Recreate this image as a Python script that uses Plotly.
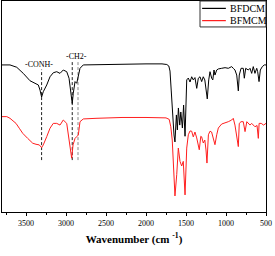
import plotly.graph_objects as go

# Wavenumber (cm-1) and transmittance (%)
bfdcm_wn = [3800, 3700, 3616, 3534, 3450, 3388, 3346, 3325, 3305, 3284, 3241, 3200, 3159, 3116, 3075, 3034,
            2991, 2962, 2937, 2922, 2909, 2887, 2866, 2846, 2825, 2784, 2600, 2300, 2000, 1800, 1740, 1715,
            1700, 1685, 1665, 1650, 1638, 1620, 1608, 1595, 1578, 1565, 1545, 1530, 1512, 1495, 1491, 1471,
            1450, 1429, 1409, 1388, 1366, 1346, 1325, 1304, 1284, 1265, 1250, 1234, 1216, 1200, 1179, 1165,
            1150, 1138, 1116, 1096, 1054, 1012, 971, 929, 909, 888, 866, 846, 834, 812, 784, 771, 754, 721,
            700, 679, 659, 638, 616, 604, 587, 571, 546, 521, 500]
bfdcm_t = [69.7, 69.7, 68.6, 65.7, 62.2, 61.0, 60.2, 57.8, 54.5, 57.0, 60.2, 64.1, 66.0, 66.5, 65.7, 67.3,
           66.5, 63.4, 56.3, 51.4, 56.3, 61.8, 61.0, 64.9, 68.1, 69.7, 69.9, 69.9, 70.2, 70.2, 69.9, 69.2,
           66.8, 57.8, 43.6, 36.5, 33.2, 46.0, 38.9, 49.3, 41.2, 47.4, 39.8, 50.7, 35.9, 55.5, 62.6, 63.5,
           61.6, 64.1, 62.6, 63.7, 58.6, 63.4, 64.1, 61.8, 64.1, 62.6, 58.8, 53.6, 62.6, 66.5, 63.4, 62.6,
           67.3, 64.9, 67.3, 67.8, 68.1, 68.4, 68.1, 68.9, 68.1, 67.3, 64.9, 57.4, 64.9, 68.1, 68.1, 63.4,
           68.1, 67.3, 68.1, 65.7, 68.9, 65.7, 68.1, 66.5, 61.8, 67.3, 68.9, 69.7, 69.7]

bfmcm_wn = [3800, 3740, 3700, 3625, 3584, 3541, 3479, 3416, 3375, 3334, 3305, 3284, 3241, 3200, 3159, 3116,
            3075, 3034, 2991, 2966, 2954, 2929, 2912, 2887, 2866, 2846, 2825, 2784, 2625, 2300, 2000, 1800,
            1750, 1710, 1690, 1672, 1655, 1638, 1616, 1596, 1575, 1554, 1534, 1512, 1491, 1471, 1450, 1429,
            1409, 1388, 1366, 1346, 1334, 1315, 1304, 1284, 1265, 1250, 1238, 1220, 1200, 1180, 1150, 1138,
            1116, 1096, 1054, 1012, 971, 929, 909, 888, 866, 846, 834, 812, 784, 762, 740, 721, 700, 679,
            659, 638, 612, 596, 586, 560, 530, 500]
bfmcm_t = [45.2, 45.2, 44.4, 42.0, 39.7, 37.3, 34.9, 32.6, 32.1, 31.8, 30.5, 31.8, 35.7, 39.7, 42.0, 42.0,
           41.2, 43.6, 42.0, 34.9, 31.8, 25.5, 31.8, 34.9, 35.7, 36.5, 42.8, 44.1, 44.4, 44.8, 44.8, 44.9,
           44.6, 43.9, 40.4, 34.1, 20.9, 7.6, 17.7, 30.3, 24.0, 21.8, 24.0, 8.1, 30.3, 36.6, 38.4, 38.3,
           35.6, 37.9, 35.1, 31.8, 29.5, 35.9, 35.6, 32.7, 34.1, 29.4, 23.2, 36.6, 38.3, 37.9, 33.5, 31.9,
           36.6, 39.8, 41.7, 42.2, 42.8, 43.6, 44.4, 41.2, 35.7, 31.0, 42.0, 42.8, 42.8, 38.1, 42.8, 42.0,
           41.2, 42.0, 41.2, 40.4, 41.0, 34.9, 42.0, 42.0, 41.2, 42.0]

series_names = ["BFDCM", "BFMCM"]
series_colors = ["black", "#ff1f1f"]

# Marker lines for the assigned bands
band_wn = [3305, 2922, 2850]
band_top = [67.5, 71.5, 71.5]
band_bottom = [24.6, 24.6, 24.6]
band_color = ["#222222", "#222222", "#888888"]
label_text = ["-CONH-", "-CH2-"]
label_wn = [3335, 2866]
label_t = [70.1, 73.5]

x_ticks = [3500, 3000, 2500, 2000, 1500, 1000, 500]

SERIF = "Liberation Serif, Times New Roman, serif"

fig = go.Figure()
for wn, t, name, color in zip([bfdcm_wn, bfmcm_wn], [bfdcm_t, bfmcm_t], series_names, series_colors):
    fig.add_trace(go.Scatter(x=wn, y=t, mode="lines", name=name, showlegend=False,
                             line=dict(color=color, width=1)))

for wn, t0, t1, c in zip(band_wn, band_top, band_bottom, band_color):
    fig.add_shape(type="line", x0=wn, x1=wn, y0=t1, y1=t0, xref="x", yref="y",
                  line=dict(color=c, width=1, dash="3px,2px"), layer="below")

for txt, wn, t in zip(label_text, label_wn, label_t):
    fig.add_annotation(x=wn, y=t, text=txt, showarrow=False, xref="x", yref="y",
                       font=dict(family=SERIF, size=8, color="black"), yanchor="middle",
                       bgcolor="rgba(255,255,255,0)")

# compact legend box (top right)
fig.add_shape(type="rect", xref="paper", yref="paper", x0=0.75, x1=1.0, y0=0.877, y1=1.0,
              line=dict(color="#333333", width=1), fillcolor="white")
for i, (name, color) in enumerate(zip(series_names, series_colors)):
    yy = 0.965 - i * 0.058
    fig.add_shape(type="line", xref="paper", yref="paper", x0=0.758, x1=0.848, y0=yy, y1=yy,
                  line=dict(color=color, width=1.2))
    fig.add_annotation(x=0.856, y=yy, xref="paper", yref="paper", text=name, showarrow=False,
                       xanchor="left", yanchor="middle",
                       font=dict(family=SERIF, size=10, color="black"))

fig.update_layout(
    width=275, height=256,
    margin=dict(l=2, r=9, t=1, b=44),
    plot_bgcolor="white", paper_bgcolor="white",
    showlegend=False,
    xaxis=dict(range=[3800, 500], tickvals=x_ticks, ticktext=[str(v) for v in x_ticks],
               ticks="outside", ticklen=3, tickcolor="black", showline=True, linecolor="black",
               mirror=True, showgrid=False, zeroline=False,
               tickfont=dict(family=SERIF, size=8, color="black"),
               minor=dict(dtick=250, tick0=500, ticks="outside", ticklen=2, tickcolor="black"),
               title=dict(text="<b>Wavenumber (cm <sup>-1</sup>)</b>", standoff=8,
                          font=dict(family=SERIF, size=11, color="black"))),
    yaxis=dict(range=[0, 100], showticklabels=False, ticks="", showline=True, linecolor="black",
               mirror=True, showgrid=False, zeroline=False),
)

fig.write_html("out.html", config={"displayModeBar": False},
               post_script="document.body.style.margin='0';")
